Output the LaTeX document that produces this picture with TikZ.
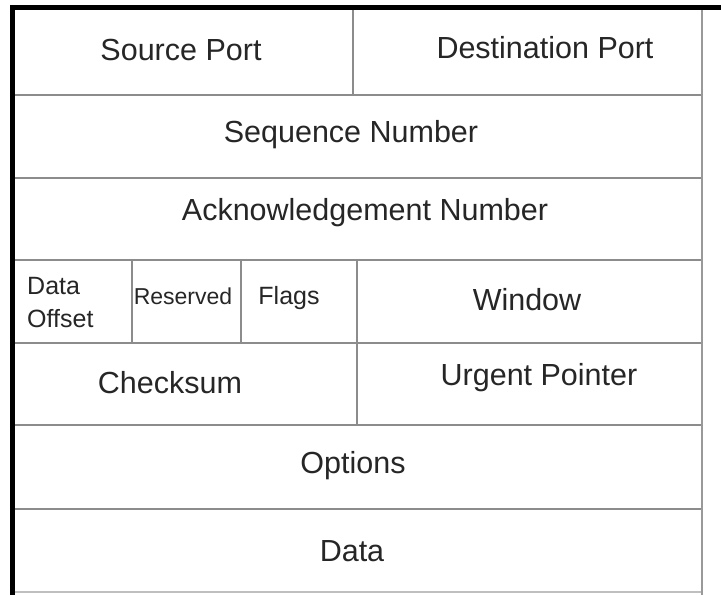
\documentclass[tikz,border=0pt]{standalone}
\usepackage{fontspec}
\setmainfont{Liberation Sans}
\begin{document}
\begin{tikzpicture}[x=1pt,y=-1pt,
  gridline/.style={draw=black!45,line width=1.3pt},
  frame/.style={draw=black,line width=5pt},
  big/.style={font=\fontsize{30.5}{32}\selectfont,text=black!85,inner sep=0pt},
  small/.style={font=\fontsize{25}{27}\selectfont,text=black!85,inner sep=0pt}]
\useasboundingbox[fill=white] (0,0) rectangle (721,595);
% row lines
\foreach \yy in {95,178,260,343,425,509}{\draw[gridline] (12,\yy) -- (702,\yy);}
\draw[draw=black!25,line width=1.5pt] (12,592) -- (702,592);
\draw[draw=black!40,line width=1.5pt] (702,8) -- (702,595);
% vertical separators
\draw[gridline] (353,8) -- (353,95);
\draw[gridline] (132,260) -- (132,343);
\draw[gridline] (241,260) -- (241,343);
\draw[gridline] (357,260) -- (357,425);
% frame
\draw[frame] (12.5,595) -- (12.5,7.5) -- (721,7.5);
% texts
\node[big] (src) at (181,50) {Source Port};
\node[big] (dst) at (545,48) {Destination Port};
\node[big] (seq) at (351,135) {Sequence Number};
\node[big] (ack) at (365,213) {Acknowledgement Number};
\node[small,anchor=west] (doff1) at (27,286) {Data};
\node[small,anchor=west] (doff2) at (27,319) {Offset};
\node[small,font=\fontsize{23}{25}\selectfont] (res) at (183,296) {Reserved};
\node[small] (flg) at (289,298) {Flags};
\node[big] (win) at (527,300) {Window};
\node[big] (chk) at (170,383) {Checksum};
\node[big] (urg) at (539,378) {Urgent Pointer};
\node[big] (opt) at (353,466) {Options};
\node[big] (dat) at (352,551) {Data};
\end{tikzpicture}
\end{document}
